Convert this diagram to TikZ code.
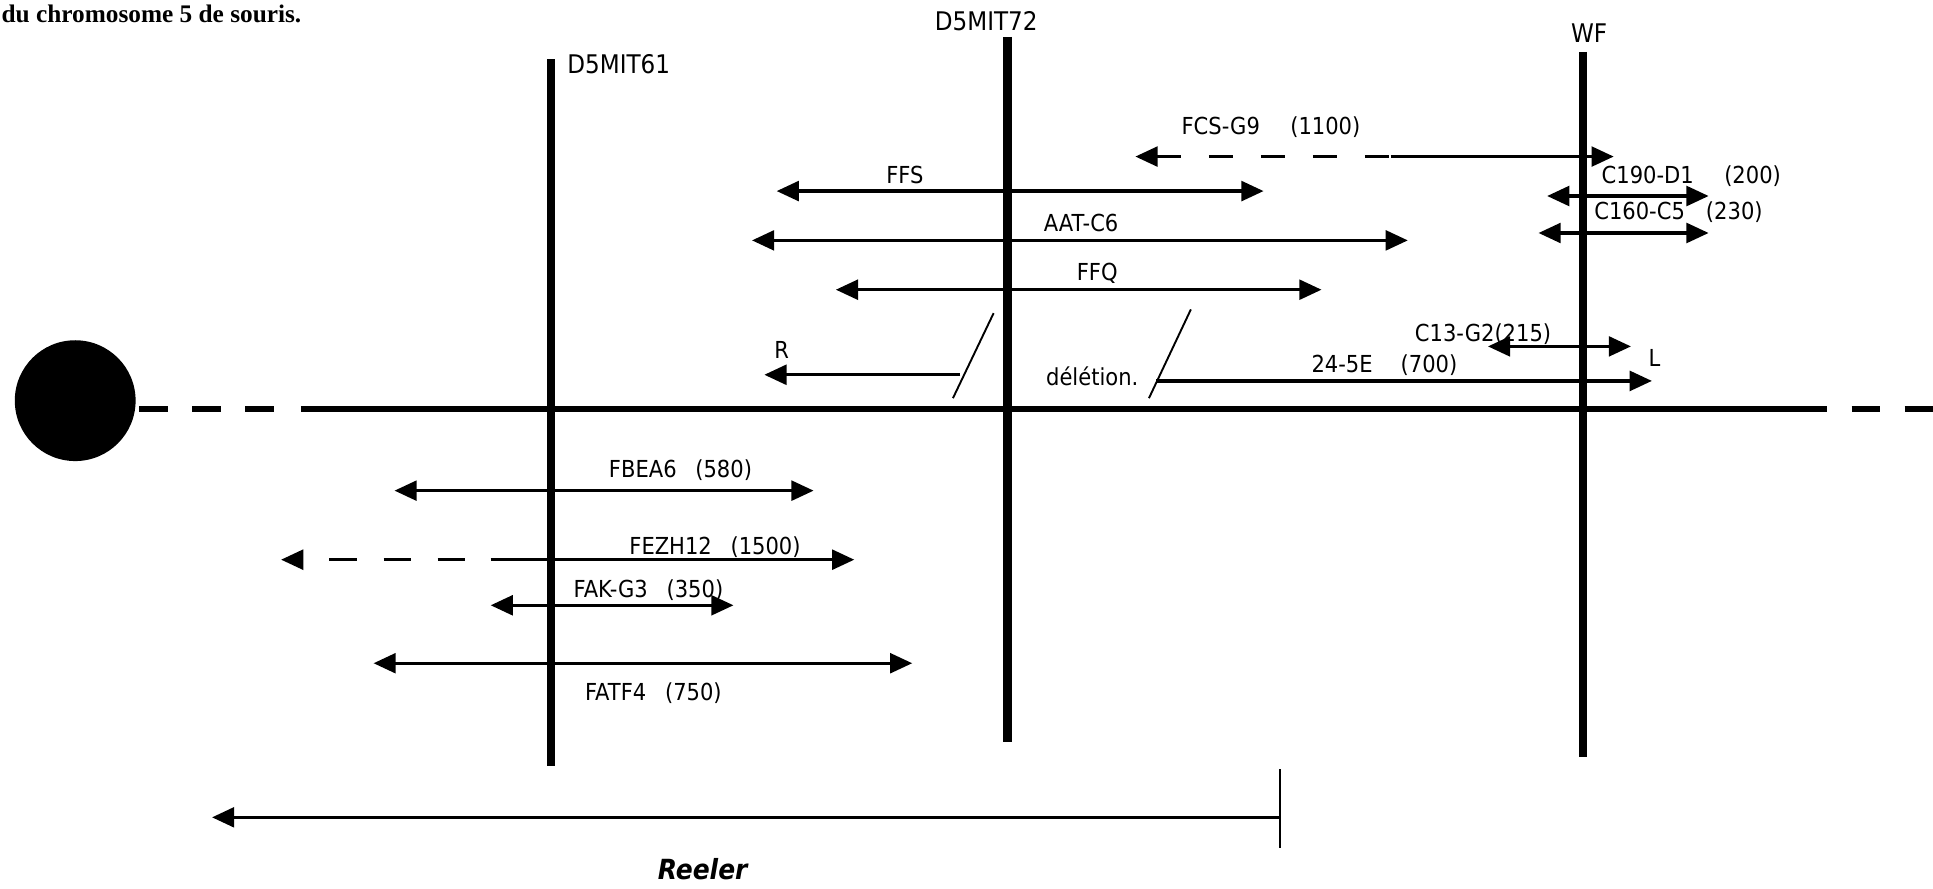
\documentclass[tikz,border=0pt]{standalone}
\usepackage{fontspec}
\setmainfont{DejaVu Sans}[FakeStretch=0.9]
\newfontfamily\titlefont{Liberation Serif}
\usetikzlibrary{arrows.meta}
\begin{document}
\begin{tikzpicture}[x=0.025cm,y=-0.025cm,
  lbl/.style={font=\fontsize{13.5}{16}\selectfont, inner sep=0pt},
  mlbl/.style={font=\fontsize{14.8}{17}\selectfont, inner sep=0pt},
  darr/.style={line width=1.9pt, {Triangle[length=0.45cm,width=0.4cm]}-{Triangle[length=0.45cm,width=0.4cm]}},
  larr/.style={line width=1.9pt, {Triangle[length=0.45cm,width=0.4cm]}-},
  rarr/.style={line width=1.9pt, -{Triangle[length=0.45cm,width=0.4cm]}},
  chrom/.style={line width=3.6pt},
  marker/.style={line width=5pt},
  thin/.style={line width=1.1pt},
]
\useasboundingbox (0,0) rectangle (1568,721);

% title
\node[anchor=west, inner sep=0pt, font=\titlefont\bfseries\fontsize{14.6}{17}\selectfont] (title) at (1,11) {du chromosome 5 de souris.};

% centromere and chromosome
\node[circle, fill=black, minimum size=98*0.025cm, inner sep=0pt] (cen) at (61,325) {};
\coordinate (c1) at (113,332);
\coordinate (c2) at (223,332);
\coordinate (c3) at (244,332);
\coordinate (c4) at (1482,332);
\coordinate (c5) at (1502,332);
\coordinate (c6) at (1570,332);
\draw[chrom, dash pattern=on 16.4pt off 14.2pt] (c1) -- (c2);
\draw[chrom] (c3) -- (c4);
\draw[chrom, dash pattern=on 16.4pt off 14.2pt] (c5) -- (c6);

% markers
\coordinate (m1t) at (447,48);  \coordinate (m1b) at (447,621);
\coordinate (m2t) at (817,30);  \coordinate (m2b) at (817,602);
\coordinate (m3t) at (1284,42); \coordinate (m3b) at (1284,614);
\draw[marker] (m1t) -- (m1b);
\draw[marker] (m2t) -- (m2b);
\draw[marker] (m3t) -- (m3b);
\node[mlbl, anchor=west] (lm1) at (460,52) {D5MIT61};
\node[mlbl] (lm2) at (800,17) {D5MIT72};
\node[mlbl] (lm3) at (1289,27) {WF};

% upper clones
\coordinate (a1l) at (921,127); \coordinate (a1m) at (1128,127); \coordinate (a1r) at (1309,127);
\draw[larr, dash pattern=on 14pt off 16pt] (a1l) -- (a1m);
\draw[rarr] (a1m) -- (a1r);
\node[lbl] (l1) at (1031,103) {FCS-G9\hspace{1.3em}(1100)};

\coordinate (a2l) at (630,155); \coordinate (a2r) at (1025,155);
\draw[darr] (a2l) -- (a2r);
\node[lbl] (l2) at (734,142) {FFS};

\coordinate (a3l) at (610,195); \coordinate (a3r) at (1142,195);
\draw[darr] (a3l) -- (a3r);
\node[lbl] (l3) at (877,181) {AAT-C6};

\coordinate (a4l) at (678,235); \coordinate (a4r) at (1072,235);
\draw[darr] (a4l) -- (a4r);
\node[lbl] (l4) at (890,222) {FFQ};

\coordinate (a5l) at (1255,159); \coordinate (a5r) at (1386,159);
\draw[darr] (a5l) -- (a5r);
\node[lbl, anchor=west] (l5) at (1299,143) {C190-D1\hspace{1.3em}(200)};

\coordinate (a6l) at (1248,189); \coordinate (a6r) at (1386,189);
\draw[darr] (a6l) -- (a6r);
\node[lbl, anchor=west] (l6) at (1293,172) {C160-C5\hspace{0.9em}(230)};

\coordinate (a7l) at (1207,281); \coordinate (a7r) at (1323,281);
\draw[darr] (a7l) -- (a7r);
\node[lbl] (l7) at (1203,271) {C13-G2(215)};

% deletion
\coordinate (s1a) at (773,323); \coordinate (s1b) at (806,254);
\coordinate (s2a) at (932,323); \coordinate (s2b) at (966,251);
\draw[thin] (s1a) -- (s1b);
\draw[thin] (s2a) -- (s2b);
\coordinate (rs) at (779,304); \coordinate (re) at (620,304);
\draw[rarr] (rs) -- (re);
\node[lbl] (lR) at (634,284) {R};
\coordinate (ls) at (938,309); \coordinate (le) at (1340,309);
\draw[rarr] (ls) -- (le);
\node[lbl] (lL) at (1342,290) {L};
\node[lbl] (ldel) at (886,305) {délétion.};
\node[lbl] (l8) at (1123,296) {24-5E\hspace{1.2em}(700)};

% lower clones
\coordinate (b1l) at (320,398); \coordinate (b1r) at (660,398);
\draw[darr] (b1l) -- (b1r);
\node[lbl] (k1) at (552,381) {FBEA6\hspace{0.8em}(580)};

\coordinate (b2l) at (228,454); \coordinate (b2m) at (398,454); \coordinate (b2r) at (693,454);
\draw[larr, dash pattern=on 15.6pt off 15.6pt, dash phase=15.6pt] (b2l) -- (b2m);
\draw[rarr] (b2m) -- (b2r);
\node[lbl] (k2) at (580,444) {FEZH12\hspace{0.8em}(1500)};

\coordinate (b3l) at (398,491); \coordinate (b3r) at (595,491);
\draw[darr] (b3l) -- (b3r);
\node[lbl] (k3) at (526,479) {FAK-G3\hspace{0.8em}(350)};

\coordinate (b4l) at (303,538); \coordinate (b4r) at (740,538);
\draw[darr] (b4l) -- (b4r);
\node[lbl] (k4) at (530,562) {FATF4\hspace{0.8em}(750)};

% Reeler
\coordinate (tt) at (1038,624); \coordinate (tb) at (1038,688);
\draw[thin] (tt) -- (tb);
\coordinate (rr) at (1038,663); \coordinate (rl) at (172,663);
\draw[rarr, line width=2pt] (rr) -- (rl);
\node[inner sep=0pt, font=\bfseries\itshape\fontsize{16}{19}\selectfont] (reeler) at (570,705) {Reeler};
\end{tikzpicture}
\end{document}
